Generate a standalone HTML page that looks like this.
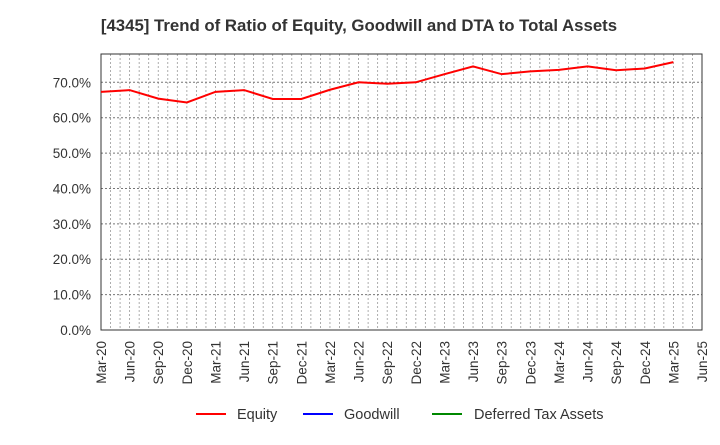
<!DOCTYPE html>
<html><head><meta charset="utf-8"><style>
body{margin:0;background:#fff;font-family:"Liberation Sans",sans-serif}
</style></head><body>
<svg width="720" height="440" xmlns="http://www.w3.org/2000/svg">
<text x="359" y="31" text-anchor="middle" font-size="16.8" font-weight="bold" fill="#333">[4345]  Trend of Ratio of Equity, Goodwill and DTA to Total Assets</text>
<g id="grid"></g><g id="axes"></g><g id="series"></g>
<g font-size="14.5" fill="#333">
<line x1="196" y1="414" x2="226" y2="414" stroke="#f00" stroke-width="2"/><text x="237" y="419">Equity</text>
<line x1="303" y1="414" x2="333" y2="414" stroke="#00f" stroke-width="2"/><text x="344" y="419">Goodwill</text>
<line x1="432" y1="414" x2="462" y2="414" stroke="#080" stroke-width="2"/><text x="474" y="419">Deferred Tax Assets</text>
</g>
</svg>
<script>
const xLabels=["Mar-20","Jun-20","Sep-20","Dec-20","Mar-21","Jun-21","Sep-21","Dec-21","Mar-22","Jun-22","Sep-22","Dec-22","Mar-23","Jun-23","Sep-23","Dec-23","Mar-24","Jun-24","Sep-24","Dec-24","Mar-25","Jun-25"];
const yTicks=[0,10,20,30,40,50,60,70];
const equity=[67.3,67.8,65.4,64.3,67.3,67.8,65.3,65.3,67.9,70.0,69.6,70.0,72.3,74.5,72.3,73.1,73.5,74.5,73.4,73.9,75.7];
const NS="http://www.w3.org/2000/svg";
const L=101,R=702,T=54,B=330,YMAX=78;
const xs=i=>L+i*(R-L)/(xLabels.length-1);
const ys=v=>B-v/YMAX*(B-T);
function mk(t,a,p){const e=document.createElementNS(NS,t);for(const k in a)e.setAttribute(k,a[k]);p.appendChild(e);return e;}
const grid=document.getElementById('grid'),axes=document.getElementById('axes'),ser=document.getElementById('series');
for(let m=1;m<(xLabels.length-1)*3;m++){const x=L+m*(R-L)/((xLabels.length-1)*3);
const g=mk('line',{x1:x,x2:x,y1:T,y2:B,stroke:'#999','stroke-dasharray':'2,2','stroke-width':0.8},grid);

}
yTicks.forEach(v=>{const y=ys(v);
if(v>0){const g=mk('line',{x1:L,x2:R,y1:y,y2:y,stroke:'#777','stroke-dasharray':'2,2','stroke-width':1},grid);

}
const t=mk('text',{x:91,y:y+5,'text-anchor':'end','font-size':13.5,fill:'#333'},axes);t.textContent=v.toFixed(1)+'%';

});
xLabels.forEach((s,i)=>{const x=xs(i);
const t=mk('text',{transform:`translate(${x+5},341) rotate(-90)`,'text-anchor':'end','font-size':13.5,fill:'#333'},axes);t.textContent=s;

});
const fr=mk('rect',{x:L,y:T,width:R-L,height:B-T,fill:'none',stroke:'#333','stroke-width':1},axes);


const p=mk('polyline',{points:equity.map((v,i)=>xs(i)+','+ys(v)).join(' '),fill:'none',stroke:'#f00','stroke-width':2},ser);


</script>
</body></html>
